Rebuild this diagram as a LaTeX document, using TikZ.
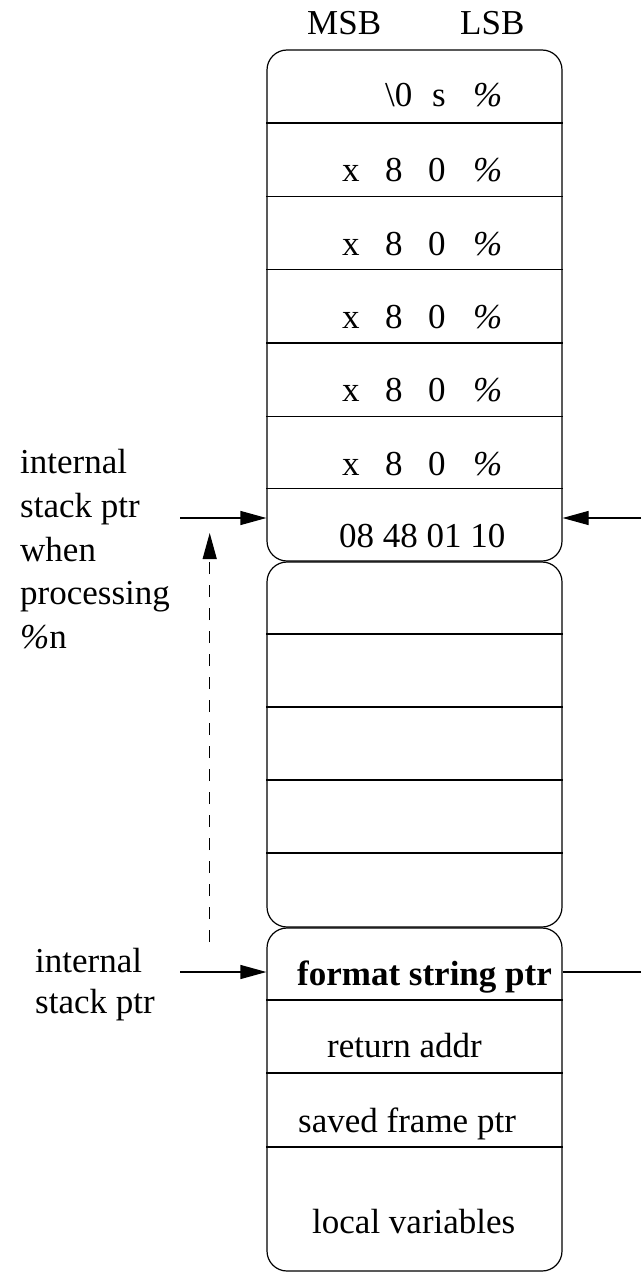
\documentclass[tikz,border=0pt]{standalone}
\usepackage{fontspec}
\setmainfont{Liberation Serif}
\usetikzlibrary{arrows.meta}
\newcommand{\pct}{\textit{\%}}
\begin{document}
\begin{tikzpicture}[x=1pt,y=-1pt,
  stackbox/.style={draw,line width=1.2pt,rounded corners=20pt,inner sep=0pt,minimum width=295pt},
  rowline/.style={line width=1.2pt},
  txt/.style={inner sep=0pt,anchor=base west,font=\fontsize{35}{43}\selectfont},
  btxt/.style={txt,font=\fontsize{35}{43}\selectfont\bfseries},
  arr/.style={line width=1.2pt,-{Triangle[length=26pt,width=14pt]}},
  plain/.style={line width=1.2pt},
  dasharr/.style={arr,dash pattern=on 12pt off 11pt}
]
\useasboundingbox (0,0) rectangle (641,1273);
% boxes
\node[stackbox,minimum height=511pt] (b1) at (414.5,305.5) {};
\node[stackbox,minimum height=365pt] (b2) at (414.5,744.5) {};
\node[stackbox,minimum height=343pt] (b3) at (414.5,1099.5) {};
% row lines box 1
\foreach \y in {123,196.3,269.6,342.9,416.2,488.5}
  \draw[rowline] (b1.west |- 0,\y) -- (b1.east |- 0,\y);
% row lines box 2
\foreach \y in {634,707,780,853}
  \draw[rowline] (b2.west |- 0,\y) -- (b2.east |- 0,\y);
% row lines box 3
\foreach \y in {1000,1073,1147}
  \draw[rowline] (b3.west |- 0,\y) -- (b3.east |- 0,\y);
% header
\node[txt] (msb) at (307,35) {MSB};
\node[txt] (lsb) at (460,35) {LSB};
% box 1 rows
\node[txt] (r1) at (385,107) {\makebox[47pt][l]{\textbackslash 0}\makebox[41pt][l]{s}\pct};
\foreach \i/\y in {2/182,3/255.3,4/328.6,5/401.9,6/475.2}
  \node[txt] (r\i) at (342,\y) {\makebox[43pt][l]{x}\makebox[43pt][l]{8}\makebox[45pt][l]{0}\pct};
\node[txt] (r7) at (339,547) {08 48 01 10};
% box 3 rows
\node[btxt] (fsp) at (297,985) {format string ptr};
\node[txt] (ra) at (327,1057) {return addr};
\node[txt] (sfp) at (298,1132) {saved frame ptr};
\node[txt] (lv) at (312,1233) {local variables};
% left labels upper
\node[txt] (la1) at (20,473) {internal};
\node[txt] (la2) at (20,517) {stack ptr};
\node[txt] (la3) at (20,561) {when};
\node[txt] (la4) at (20,604) {processing};
\node[txt] (la5) at (20,648) {\pct n};
% left labels lower
\node[txt] (lb1) at (35,972) {internal};
\node[txt] (lb2) at (35,1013) {stack ptr};
% arrows
\coordinate (pa) at (180,518);
\coordinate (pb) at (641,518);
\coordinate (pc) at (180,972);
\coordinate (pd) at (641,972);
\draw[arr] (pa) -- (pa -| b1.west);
\draw[arr] (pb) -- (pb -| b1.east);
\draw[arr] (pc) -- (pc -| b3.west);
\draw[plain] (pd) -- (pd -| b3.east);
\coordinate (da) at (209.7,942);
\coordinate (db) at (209.7,533);
\draw[dasharr] (da) -- (db);
\end{tikzpicture}
\end{document}
